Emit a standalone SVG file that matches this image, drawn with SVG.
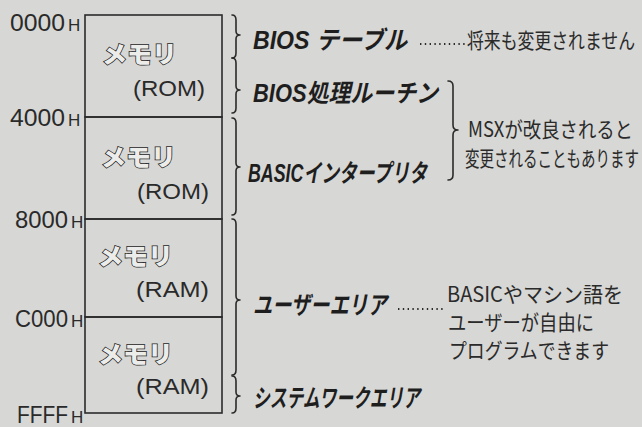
<svg xmlns="http://www.w3.org/2000/svg" width="642" height="427" viewBox="0 0 642 427">
<style>
.bg{fill:#d7d7d5}
.cell{fill:none;stroke:#2b2b2b;stroke-width:1.6}
.addr{font-family:"Liberation Sans","DejaVu Sans",sans-serif;font-size:24px;fill:#2a2a2a}
.h{font-family:"Liberation Sans","DejaVu Sans",sans-serif;font-size:17px;fill:#2a2a2a}
.mem{font-family:"Noto Sans CJK JP",sans-serif;font-weight:900;font-size:24px;fill:#ececea;stroke:#1e1e1e;stroke-width:1.5;paint-order:stroke}
.kind{font-family:"Liberation Sans","Noto Sans CJK JP",sans-serif;font-size:22px;fill:#2a2a2a}
.lbl{font-family:"Liberation Sans","Noto Sans CJK JP",sans-serif;font-weight:bold;font-size:25px;fill:#1e1e1e;font-style:italic}
.note{font-family:"Noto Sans CJK JP",sans-serif;font-size:21px;fill:#2a2a2a}
.brace{fill:none;stroke:#2b2b2b;stroke-width:1.6;stroke-linecap:round;stroke-linejoin:round}
.dots{fill:none;stroke:#2b2b2b;stroke-width:1.8;stroke-dasharray:1.4 3.4}
</style>
<rect class="bg" x="0" y="0" width="642" height="427"/>
<g id="addresses">
<text class="addr" x="10" y="31" textLength="55" lengthAdjust="spacingAndGlyphs">0000</text>
<text class="h" x="68" y="31">H</text>
<text class="addr" x="10" y="126" textLength="55" lengthAdjust="spacingAndGlyphs">4000</text>
<text class="h" x="68" y="126">H</text>
<text class="addr" x="15" y="228" textLength="53" lengthAdjust="spacingAndGlyphs">8000</text>
<text class="h" x="71" y="228">H</text>
<text class="addr" x="15" y="327" textLength="53" lengthAdjust="spacingAndGlyphs">C000</text>
<text class="h" x="71" y="327">H</text>
<text class="addr" x="17" y="423" textLength="51" lengthAdjust="spacingAndGlyphs">FFFF</text>
<text class="h" x="71" y="423">H</text>
</g>
<g id="cell-rom1">
<rect class="cell" x="85" y="15" width="137" height="102"/>
<text class="mem" x="102" y="63" textLength="75" lengthAdjust="spacingAndGlyphs">メモリ</text>
<text class="kind" x="133" y="96" textLength="72" lengthAdjust="spacingAndGlyphs">(ROM)</text>
</g>
<g id="cell-rom2">
<rect class="cell" x="85" y="117" width="137" height="102"/>
<text class="mem" x="101" y="166" textLength="75" lengthAdjust="spacingAndGlyphs">メモリ</text>
<text class="kind" x="137" y="199" textLength="72" lengthAdjust="spacingAndGlyphs">(ROM)</text>
</g>
<g id="cell-ram1">
<rect class="cell" x="85" y="219" width="137" height="98"/>
<text class="mem" x="98" y="265" textLength="75" lengthAdjust="spacingAndGlyphs">メモリ</text>
<text class="kind" x="136" y="297" textLength="73" lengthAdjust="spacingAndGlyphs">(RAM)</text>
</g>
<g id="cell-ram2">
<rect class="cell" x="85" y="317" width="137" height="96"/>
<text class="mem" x="98" y="363" textLength="75" lengthAdjust="spacingAndGlyphs">メモリ</text>
<text class="kind" x="136" y="394" textLength="73" lengthAdjust="spacingAndGlyphs">(RAM)</text>
</g>
<g id="connectors">
<path class="brace" d="M232,15 Q236,15 236,20 L236,31 Q236,35 240,35 Q236,35 236,39 L236,53 Q236,58 232,58"/>
<path class="brace" d="M232,58 Q236,58 236,63 L236,86 Q236,90 240,90 Q236,90 236,94 L236,108 Q236,113 232,113"/>
<path class="brace" d="M232,118 Q236,118 236,123 L236,163 Q236,167 240,167 Q236,167 236,171 L236,210 Q236,215 232,215"/>
<path class="brace" d="M232,219 Q236,219 236,224 L236,296 Q236,300 240,300 Q236,300 236,304 L236,370 Q236,375 232,375"/>
<path class="brace" d="M232,376 Q236,376 236,381 L236,392 Q236,396 240,396 Q236,396 236,400 L236,408 Q236,413 232,413"/>
<path class="brace" d="M448,81 Q453,81 453,86 L453,125 Q453,130 458,130 Q453,130 453,135 L453,175 Q453,180 448,180"/>
<line class="dots" x1="420" y1="44" x2="466" y2="44"/>
<line class="dots" x1="398" y1="309" x2="444" y2="309"/>
</g>
<g id="label-bios-table">
<text class="lbl" x="253" y="49" textLength="154" lengthAdjust="spacingAndGlyphs">BIOS テーブル</text>
<text class="note" x="467" y="48" textLength="168" lengthAdjust="spacingAndGlyphs">将来も変更されません</text>
</g>
<g id="label-bios-routine">
<text class="lbl" x="253" y="102" textLength="185" lengthAdjust="spacingAndGlyphs">BIOS処理ルーチン</text>
</g>
<g id="label-basic">
<text class="lbl" x="248" y="182" textLength="179" lengthAdjust="spacingAndGlyphs">BASICインタープリタ</text>
</g>
<g id="note-msx">
<text class="note" x="468" y="137" textLength="165" lengthAdjust="spacingAndGlyphs">MSXが改良されると</text>
<text class="note" x="465" y="166" textLength="174" lengthAdjust="spacingAndGlyphs">変更されることもあります</text>
</g>
<g id="label-user">
<text class="lbl" x="253" y="314" textLength="134" lengthAdjust="spacingAndGlyphs">ユーザーエリア</text>
<text class="note" x="447" y="302" textLength="176" lengthAdjust="spacingAndGlyphs">BASICやマシン語を</text>
<text class="note" x="448" y="330" textLength="146" lengthAdjust="spacingAndGlyphs">ユーザーが自由に</text>
<text class="note" x="449" y="358" textLength="160" lengthAdjust="spacingAndGlyphs">プログラムできます</text>
</g>
<g id="label-system">
<text class="lbl" x="253" y="407" textLength="167" lengthAdjust="spacingAndGlyphs">システムワークエリア</text>
</g>
</svg>
